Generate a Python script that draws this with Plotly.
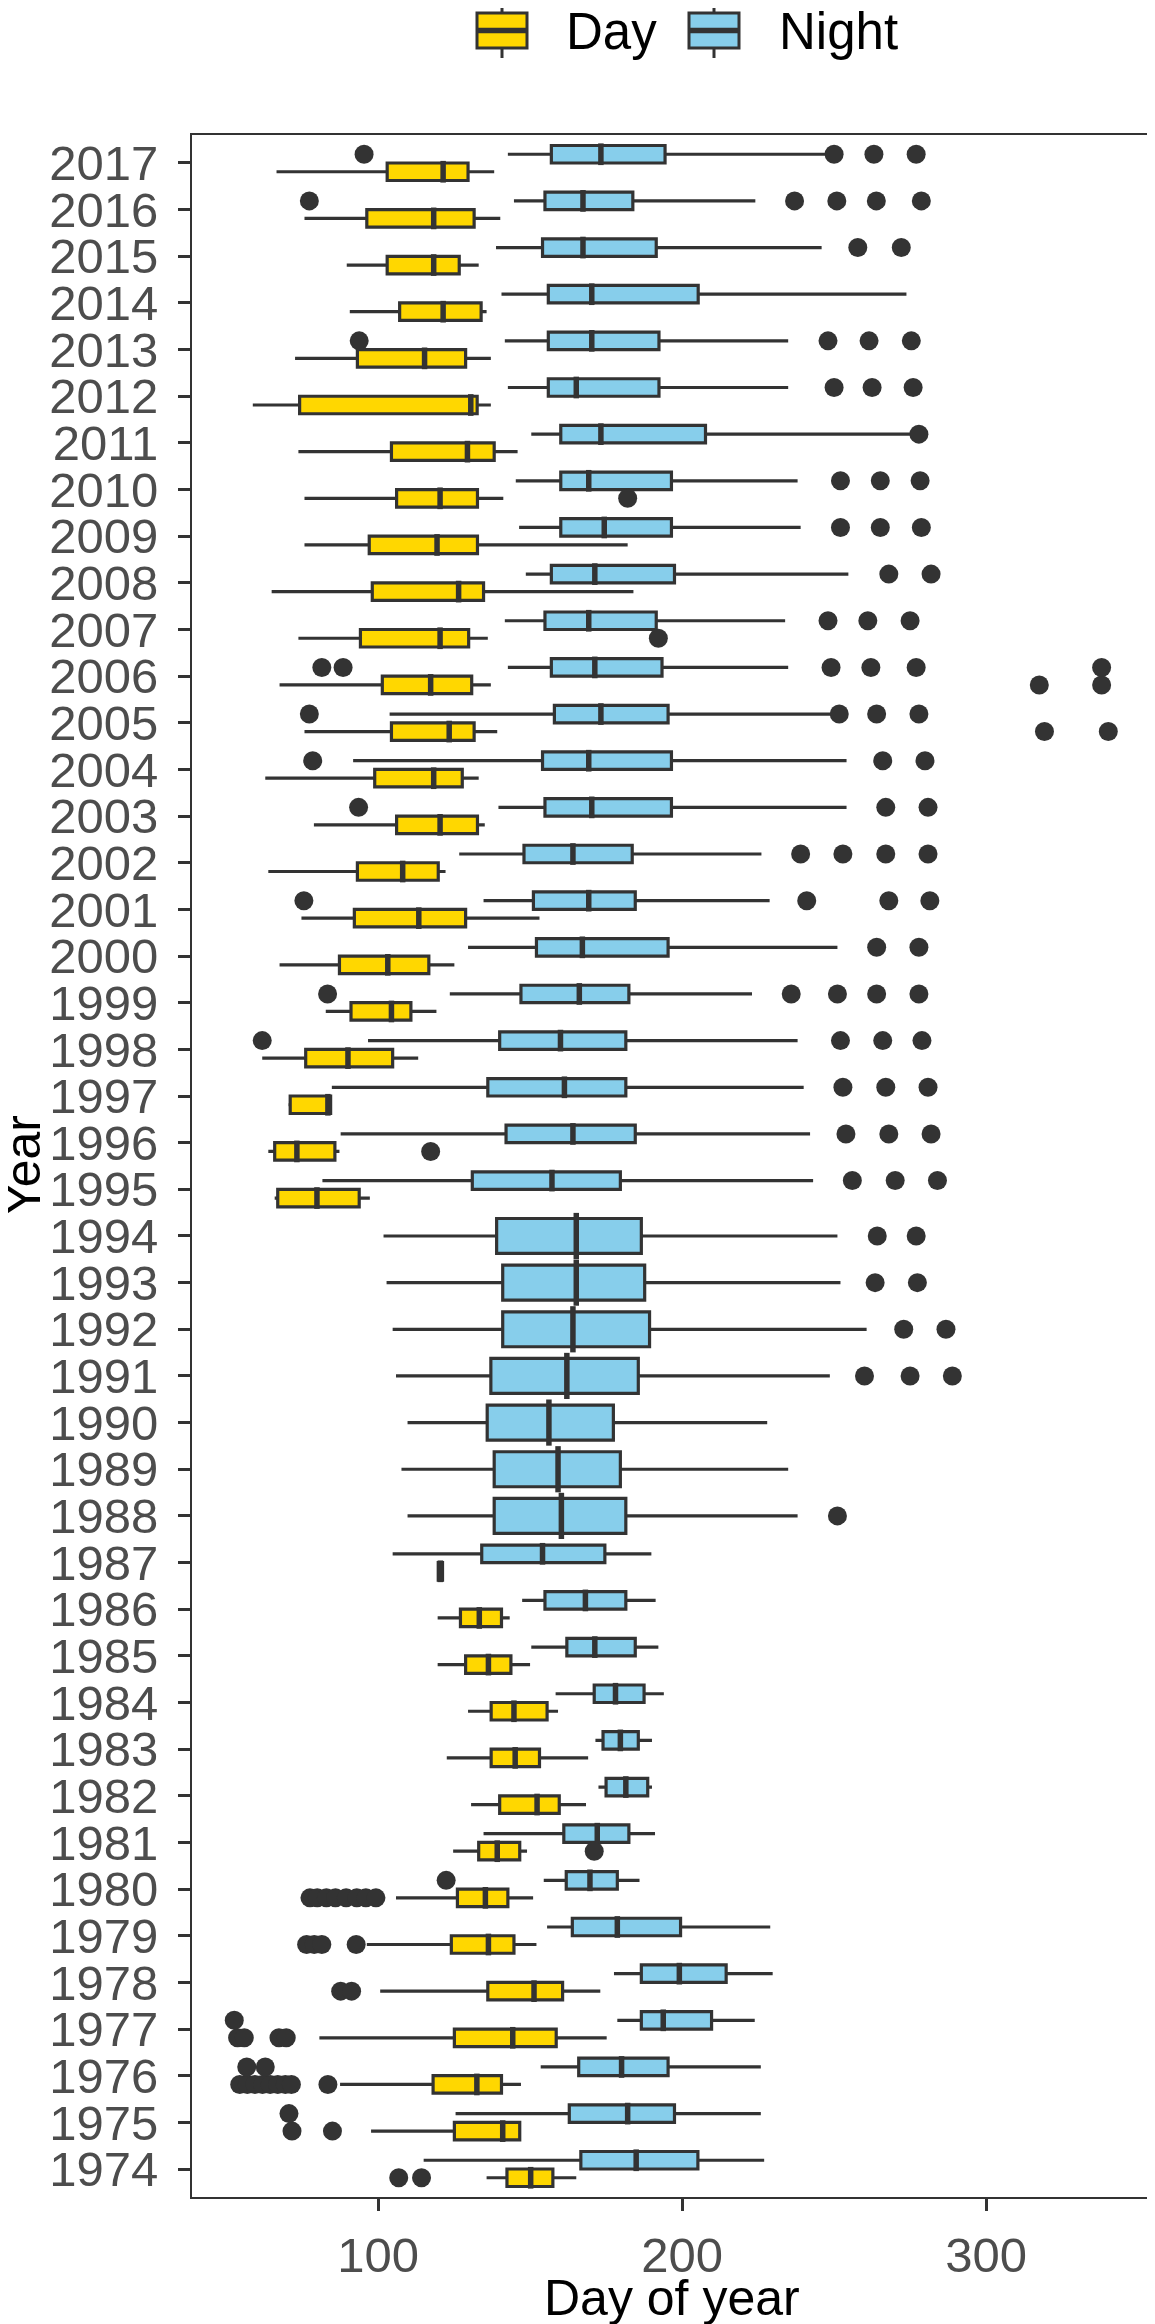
import plotly.graph_objects as go

# box statistics (day of year)
day_years = [1974, 1975, 1976, 1977, 1978, 1979, 1980, 1981, 1982, 1983, 1984, 1985, 1986, 1987,
             1995, 1996, 1997, 1998, 1999, 2000, 2001, 2002, 2003, 2004, 2005, 2006, 2007, 2008,
             2009, 2010, 2011, 2012, 2013, 2014, 2015, 2016, 2017]
day_lo = [135.7, 97.7, 87.5, 80.7, 100.7, 96.3, 105.9, 124.7, 130.6, 122.6, 129.6, 119.6, 119.6, 119.8,
          66.0, 63.9, 70.5, 61.9, 82.8, 67.6, 74.8, 63.9, 78.9, 62.9, 75.8, 67.6, 73.8, 65.0,
          75.8, 75.8, 73.8, 58.8, 72.7, 90.7, 89.7, 75.8, 66.6]
day_q1 = [142.4, 125.1, 118.1, 125.1, 136.1, 124.1, 126.1, 133.1, 140.0, 137.2, 137.2, 128.8, 127.1, 119.8,
          67.0, 66.0, 71.1, 76.2, 91.1, 87.3, 92.2, 93.2, 106.1, 98.9, 104.4, 101.4, 94.2, 98.1,
          97.1, 106.1, 104.4, 74.2, 93.2, 107.1, 103.0, 96.3, 103.0]
day_med = [150.2, 141.0, 132.5, 144.3, 151.3, 136.3, 135.3, 139.2, 152.3, 145.1, 144.7, 136.3, 133.3, 120.5,
           79.9, 73.3, 83.5, 90.1, 104.4, 103.2, 113.4, 108.1, 120.4, 118.3, 123.4, 117.3, 120.4, 126.5,
           119.4, 120.4, 129.4, 130.5, 115.3, 121.4, 118.3, 118.3, 121.4]
day_q3 = [157.5, 146.6, 140.6, 158.6, 160.7, 144.7, 142.7, 146.6, 159.6, 153.1, 155.6, 143.7, 140.6, 121.2,
          93.8, 85.8, 84.4, 104.8, 110.8, 116.7, 128.8, 119.8, 132.7, 127.7, 131.6, 130.8, 129.8, 134.7,
          132.7, 132.7, 138.2, 132.6, 128.8, 133.9, 126.7, 131.6, 129.6]
day_hi = [165.2, 147.0, 147.0, 175.2, 173.1, 152.1, 151.0, 149.0, 168.4, 169.1, 159.2, 150.0, 143.3, 121.2,
          97.3, 87.3, 84.6, 113.2, 119.2, 125.1, 153.1, 122.2, 135.1, 133.1, 139.2, 137.1, 136.1, 184.0,
          182.1, 141.2, 145.9, 137.1, 137.1, 135.7, 133.1, 140.2, 138.2]

night_years = list(range(1974, 2018))
night_lo = [115.0, 125.5, 153.5, 178.7, 177.6, 155.6, 154.5, 134.7, 172.5, 171.5, 158.4, 150.4, 147.4, 104.8,
            109.7, 107.7, 109.7, 105.9, 104.8, 102.8, 101.8, 81.7, 87.7, 84.8, 96.7, 123.6, 129.6, 134.7,
            126.7, 139.6, 91.8, 103.8, 142.7, 141.7, 148.6, 146.4, 145.3, 150.4, 142.7, 141.7, 140.6,
            138.8, 144.7, 142.7]
night_q1 = [166.7, 162.9, 166.0, 186.6, 186.6, 163.9, 161.9, 161.1, 175.0, 174.0, 171.1, 162.1, 154.9, 134.1,
            138.2, 138.2, 135.9, 137.1, 141.0, 141.0, 139.0, 131.0, 142.1, 136.1, 140.0, 147.0, 152.1, 151.1,
            148.0, 154.9, 154.1, 158.0, 157.0, 154.9, 157.0, 160.1, 160.1, 160.1, 156.0, 156.0, 156.0,
            154.1, 154.9, 157.0]
night_med = [184.9, 182.1, 180.1, 193.8, 199.1, 178.7, 169.7, 172.1, 181.5, 179.7, 178.1, 171.3, 168.2, 154.1,
             160.3, 159.2, 156.2, 162.1, 164.1, 165.2, 165.2, 157.2, 164.1, 161.3, 160.0, 166.2, 167.2, 169.3,
             164.1, 170.3, 169.3, 173.3, 171.3, 169.3, 171.3, 174.4, 169.3, 173.3, 165.2, 170.3, 170.3,
             167.4, 167.4, 173.3]
night_q3 = [205.2, 197.5, 195.4, 209.7, 214.5, 199.5, 178.7, 182.5, 188.7, 185.6, 187.5, 184.6, 181.5, 174.6,
            181.5, 179.7, 177.4, 185.6, 189.3, 187.7, 186.6, 179.7, 184.6, 181.5, 181.5, 182.5, 195.4, 184.6,
            183.6, 196.5, 196.5, 195.4, 193.4, 191.5, 197.5, 196.5, 196.5, 207.7, 192.4, 192.4, 205.3,
            191.5, 183.8, 194.4]
night_hi = [227.0, 225.9, 225.9, 223.9, 229.8, 229.0, 186.0, 191.1, 190.1, 190.1, 194.0, 192.2, 191.3, 189.9,
            238.0, 234.9, 228.0, 248.6, 260.7, 252.1, 251.1, 243.1, 242.1, 240.0, 238.0, 223.0, 251.1, 228.8,
            226.1, 254.1, 254.1, 249.0, 234.9, 233.9, 254.7, 239.0, 238.0, 275.2, 234.9, 234.9, 273.8,
            245.9, 224.1, 247.6]

# outliers
day_out_years = [1974, 1974, 1975, 1975,
                 1976, 1976, 1976, 1976, 1976, 1976, 1976, 1976, 1976,
                 1977, 1977, 1977, 1977, 1978, 1978, 1979, 1979, 1979, 1979,
                 1980, 1980, 1980, 1980, 1980, 1980, 1980, 1980, 1981,
                 1996, 2005, 2005, 2006, 2006, 2007, 2010]
day_out_vals = [106.8, 114.3, 71.7, 85.0,
                54.5, 57.0, 59.5, 62.0, 64.5, 67.0, 69.5, 71.5, 83.5,
                53.8, 56.0, 67.4, 69.8, 87.7, 91.3, 76.5, 79.0, 81.5, 92.8,
                77.6, 80.0, 83.0, 86.0, 89.5, 93.0, 96.0, 99.3, 171.1,
                117.3, 319.2, 340.2, 317.5, 338.0, 192.2, 182.1]

night_out_years = [1975, 1976, 1976, 1977, 1980, 1988, 1991, 1991, 1991, 1992, 1992, 1993, 1993,
                   1994, 1994, 1995, 1995, 1995, 1996, 1996, 1996, 1997, 1997, 1997,
                   1998, 1998, 1998, 1998, 1999, 1999, 1999, 1999, 1999, 2000, 2000,
                   2001, 2001, 2001, 2001, 2002, 2002, 2002, 2002, 2003, 2003, 2003,
                   2004, 2004, 2004, 2005, 2005, 2005, 2005,
                   2006, 2006, 2006, 2006, 2006, 2006, 2007, 2007, 2007, 2008, 2008,
                   2009, 2009, 2009, 2010, 2010, 2010, 2011, 2012, 2012, 2012,
                   2013, 2013, 2013, 2013, 2015, 2015, 2016, 2016, 2016, 2016, 2016,
                   2017, 2017, 2017, 2017]
night_out_vals = [70.7, 56.8, 62.9, 52.7, 122.4, 251.1, 260.0, 275.0, 288.9, 272.9, 286.8, 263.5, 277.4,
                  264.2, 277.0, 256.0, 270.1, 284.0, 253.9, 268.0, 281.9, 252.9, 267.0, 280.9,
                  61.9, 252.1, 266.0, 278.9, 83.4, 235.9, 251.1, 264.0, 277.9, 264.0, 277.9,
                  75.6, 241.0, 268.0, 281.5, 239.0, 252.9, 267.0, 280.9, 93.6, 267.0, 280.9,
                  78.5, 266.0, 279.9, 77.4, 251.7, 264.0, 277.9,
                  81.5, 88.5, 249.0, 262.1, 277.0, 338.0, 248.0, 261.1, 275.0, 268.0, 281.9,
                  252.1, 265.2, 278.7, 252.1, 265.2, 278.3, 277.9, 250.0, 262.5, 276.0,
                  93.8, 248.0, 261.5, 275.4, 257.8, 272.1, 77.4, 237.0, 250.9, 263.9, 278.7,
                  95.4, 250.0, 263.1, 277.0]

DAY_COL = '#FFD700'
NIGHT_COL = '#87CEEB'
INK = '#333333'
FONT = 'Liberation Sans, Arial, sans-serif'
DODGE = 0.1875  # ggplot position_dodge with box width 0.75

# the page body adds an 8px margin, so the figure is shifted by that much on screen
OFF = 8
W, H = 1155 - OFF, 2324 - OFF
PL, PR, PT, PB = 192 - OFF, 1153 - OFF, 135 - OFF, 2197 - OFF   # plot area in figure pixels
YR = [1973.4, 2017.6]
UNIT_PX = (PB - PT) / (YR[1] - YR[0])


def pos(year, series):
    # years with only night data get the full slot
    if year not in day_years:
        return year
    return year - DODGE if series == 'Day' else year + DODGE


def box(name, years, lo, q1, med, q3, hi, color, width):
    return go.Box(name=name, showlegend=False,
                  orientation='h', y=[pos(y, name) for y in years],
                  q1=q1, median=med, q3=q3, lowerfence=lo, upperfence=hi,
                  width=width, whiskerwidth=0, boxpoints=False,
                  fillcolor=color, line=dict(color=INK, width=3.2),
                  hoverinfo='x')


def median_bar(name, years, med, width):
    # ggplot draws the median thicker than the box outline
    return go.Scatter(x=med, y=[pos(y, name) for y in years], mode='markers',
                      marker=dict(symbol='line-ns', size=width * UNIT_PX - 2,
                                  line=dict(color=INK, width=5.5)),
                      showlegend=False, hoverinfo='skip')


paired = [i for i, y in enumerate(night_years) if y in day_years]
single = [i for i, y in enumerate(night_years) if y not in day_years]


def pick(arr, idx):
    return [arr[i] for i in idx]


fig = go.Figure()
fig.add_trace(box('Day', day_years, day_lo, day_q1, day_med, day_q3, day_hi, DAY_COL, 2 * DODGE))
fig.add_trace(median_bar('Day', day_years, day_med, 2 * DODGE))
fig.add_trace(box('Night', pick(night_years, paired), pick(night_lo, paired), pick(night_q1, paired),
                  pick(night_med, paired), pick(night_q3, paired), pick(night_hi, paired),
                  NIGHT_COL, 2 * DODGE))
fig.add_trace(median_bar('Night', pick(night_years, paired), pick(night_med, paired), 2 * DODGE))
fig.add_trace(box('Night', pick(night_years, single), pick(night_lo, single), pick(night_q1, single),
                  pick(night_med, single), pick(night_q3, single), pick(night_hi, single),
                  NIGHT_COL, 4 * DODGE))
fig.add_trace(median_bar('Night', pick(night_years, single), pick(night_med, single), 4 * DODGE))

fig.add_trace(go.Scatter(x=day_out_vals, y=[pos(y, 'Day') for y in day_out_years],
                         mode='markers', marker=dict(color=INK, size=19),
                         showlegend=False, hoverinfo='x'))
fig.add_trace(go.Scatter(x=night_out_vals, y=[pos(y, 'Night') for y in night_out_years],
                         mode='markers', marker=dict(color=INK, size=19),
                         showlegend=False, hoverinfo='x'))


# helpers: screen pixel (as in the reference image) -> paper fraction
def fx(px):
    return (px - OFF - PL) / (PR - PL)


def fy(py):
    return (PB - (py - OFF)) / (PB - PT)


# legend drawn in the ggplot style (keys are boxplot glyphs)
shapes = []
annotations = []
for label, color, kx, tx in [('Day', DAY_COL, 477, 564), ('Night', NIGHT_COL, 689, 777)]:
    cx = kx + 25
    shapes.append(dict(type='line', xref='paper', yref='paper', x0=fx(cx), x1=fx(cx),
                       y0=fy(OFF), y1=fy(58), line=dict(color=INK, width=3)))
    shapes.append(dict(type='rect', xref='paper', yref='paper', x0=fx(kx), x1=fx(kx + 50),
                       y0=fy(13), y1=fy(48), fillcolor=color, line=dict(color=INK, width=3)))
    shapes.append(dict(type='line', xref='paper', yref='paper', x0=fx(kx), x1=fx(kx + 50),
                       y0=fy(30.5), y1=fy(30.5), line=dict(color=INK, width=5.5)))
    annotations.append(dict(text=label, xref='paper', yref='paper', x=fx(tx), y=fy(32),
                            xanchor='left', yanchor='middle', showarrow=False,
                            font=dict(family=FONT, size=51, color='black')))

# axis titles
annotations.append(dict(text='Day of year', xref='paper', yref='paper', x=fx(672), y=fy(2298),
                        xanchor='center', yanchor='middle', showarrow=False,
                        font=dict(family=FONT, size=50, color='black')))
annotations.append(dict(text='Year', xref='paper', yref='paper', x=fx(23), y=fy(1166),
                        xanchor='center', yanchor='middle', textangle=-90, showarrow=False,
                        font=dict(family=FONT, size=50, color='black')))

axis_style = dict(showgrid=False, zeroline=False, showline=True, linecolor=INK, linewidth=2,
                  mirror=True, ticks='outside', ticklen=12, tickwidth=3, tickcolor=INK,
                  automargin=False,
                  tickfont=dict(family=FONT, size=49, color='#4D4D4D'))

fig.update_layout(
    width=W,
    height=H,
    margin=dict(l=PL, r=W - PR, t=PT, b=H - PB, autoexpand=False),
    paper_bgcolor='white',
    plot_bgcolor='white',
    boxmode='overlay',
    showlegend=False,
    font=dict(family=FONT, color='black'),
    xaxis=dict(range=[38.8, 354.9], tickvals=[100, 200, 300], ticklabelstandoff=2, **axis_style),
    yaxis=dict(range=YR, tickvals=night_years, ticktext=[str(y) for y in night_years],
               ticklabelstandoff=10, **axis_style),
    shapes=shapes,
    annotations=annotations,
)

fig.write_html('out.html')
